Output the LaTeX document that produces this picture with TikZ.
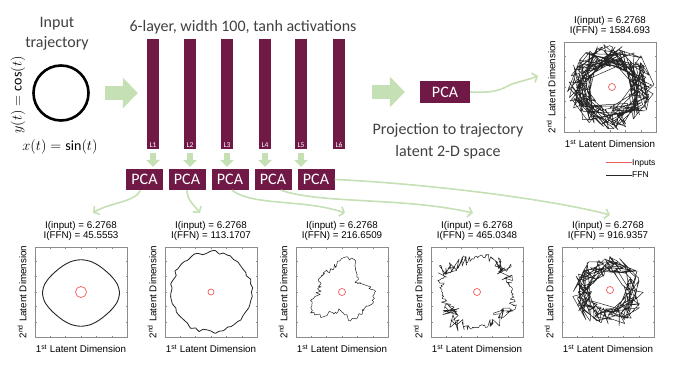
\documentclass[tikz,border=0pt]{standalone}
\usepackage{fontspec}
\setmainfont{Carlito}
\newfontfamily\plotfont{Liberation Sans}
\usetikzlibrary{arrows.meta}
\definecolor{layercol}{RGB}{112,25,70}
\definecolor{flowgreen}{RGB}{197,224,180}
\definecolor{txtgray}{RGB}{64,64,64}
\definecolor{inpred}{RGB}{238,90,90}
\tikzset{
  layerbar/.style={fill=layercol, minimum width=12pt, minimum height=110pt, inner sep=0pt},
  lyrlbl/.style={fill=layercol, text=white, font=\fontsize{7.5}{8}\selectfont, inner sep=1pt},
  pca/.style={fill=layercol, text=white, font=\fontsize{16}{18}\selectfont, minimum width=37pt, minimum height=21pt, inner sep=0pt},
  fatarrow/.style={flowgreen, line width=14pt, -{Triangle[length=15pt,width=30pt]}},
  downarrow/.style={flowgreen, line width=6pt, -{Triangle[length=7pt,width=14pt]}},
  flow/.style={flowgreen, line width=1.6pt, -{Straight Barb[length=4pt,width=10pt]}},
  slidetxt/.style={text=txtgray, font=\fontsize{16}{20}\selectfont, align=center},
  plottxt/.style={font=\plotfont\fontsize{9.8}{10.5}\selectfont, inner sep=0pt, align=center},
  axbox/.style={draw=black!45, line width=0.5pt},
  ffn/.style={draw=black!85, line width=0.5pt, line join=round},
  inp/.style={draw=inpred, line width=0.7pt}
}
% one MATLAB style panel: box, ticks, title and axis labels
\def\panel(#1,#2)#3#4{%
  \draw[axbox] (#1,#2) rectangle ++(92,90);
  \foreach \tk in {15,30,46,61,77}{%
    \draw[axbox] ({#1+\tk},#2) -- ++(0,1.5);
    \draw[axbox] ({#1+\tk},{#2+90}) -- ++(0,-1.5);
    \draw[axbox] (#1,{#2+\tk*90/92}) -- ++(1.5,0);
    \draw[axbox] ({#1+92},{#2+\tk*90/92}) -- ++(-1.5,0);
  }
  \node[plottxt] (ttl#3) at ({#1+46},{#2-16}) {I(input) = 6.2768\\I(FFN) = #4};
  \node[plottxt] (xl#3) at ({#1+46},{#2+102}) {1\textsuperscript{st} Latent Dimension};
  \node[plottxt, rotate=90] (yl#3) at ({#1-13},{#2+45}) {2\textsuperscript{nd} Latent Dimension};
}

\begin{document}
\begin{tikzpicture}[x=1pt,y=-1pt]
	%%%%% START %%%%%
	\useasboundingbox (0,0) rectangle (674,366);
	
	\node[slidetxt] (intitle) at (57,34) {Input\\trajectory};
	\node[draw, circle, line width=2.6pt, minimum size=55pt, inner sep=0pt] (traj) at (61,93) {};
	\node[rotate=90, font=\fontsize{14}{16}\selectfont] (ycos) at (18,95) {$y(t) = \cos(t)$};
	\node[font=\fontsize{14}{16}\selectfont] (xsin) at (60,147) {$x(t) = \sin(t)$};
	
	\node[slidetxt] (nettitle) at (243,27) {6-layer, width 100, tanh activations};
	\foreach \i/\x in {1/153,2/190,3/227,4/265,5/301,6/339}{
		\node[layerbar] (b\i) at (\x,94) {};
		\node[lyrlbl, anchor=south] (l\i) at (b\i.south) {L\i};
	}
	\foreach \i/\x in {1/144.5,2/187,3/230,4/273,5/316}
		\node[pca] (p\i) at (\x,179.5) {PCA};
	\foreach \i in {1,...,5}
		\draw[downarrow, shorten <=4pt, shorten >=2pt] (b\i.south) -- (b\i.south |- p\i.north);
	
	\draw[fatarrow, shorten <=15pt, shorten >=9pt] (traj.east) -- (traj.east -| b1.west);
	
	\node[pca, minimum width=50pt, minimum height=22pt] (pcaR) at (445,92) {PCA};
	\draw[fatarrow, shorten <=27pt, shorten >=15pt] (b6.east |- pcaR) -- (pcaR.west);
	\node[slidetxt, font=\fontsize{16}{22}\selectfont] (projtxt) at (448,141) {Projection to trajectory\\latent 2-D space};
	
	%%%%% PANELS %%%%%
	\panel(564,42){0}{1584.693}
	\panel(35,247){1}{45.5553}
	\panel(165,247){2}{113.1707}
	\panel(296,247){3}{216.6509}
	\panel(431,247){4}{465.0348}
	\panel(562,247){5}{916.9357}
	
	\coordinate (projend) at (538,76);
	\draw[flow] (pcaR.east) .. controls +(25,1) and +(-12,6) .. (512,84) .. controls +(10,-3) and +(-8,3) .. (projend);
	
	\node[plottxt, font=\plotfont\fontsize{8.5}{9}\selectfont, anchor=west] (leginp) at (632,163) {Inputs};
	\node[plottxt, font=\plotfont\fontsize{8.5}{9}\selectfont, anchor=west] (legffn) at (632,175) {FFN};
	\draw[inp, line width=1pt] (leginp.west) -- ++(-26,0);
	\draw[ffn, line width=0.8pt] (legffn.west) -- ++(-26,0);
	
	%%%%% CURVES %%%%%
	\draw[ffn, line width=0.9pt] plot[smooth cycle, domain=0:345, samples=24] ({81+37*cos(\x)*(1+0.04*cos(4*\x))}, {293+32*sin(\x)*(1+0.04*cos(4*\x))});
	
	\pgfmathsetseed{7}
	\draw[ffn, line width=0.8pt] plot[smooth cycle, domain=0:354, samples=60] ({211+(40+2*rand)*cos(\x)}, {292+(40+2*rand)*sin(\x)});
	
	\pgfmathsetseed{11}
	\draw[ffn] plot[domain=0:360, samples=100] ({342+(27+5*sin(3*\x)+4*cos(5*\x)+3*rand)*cos(\x)}, {292+(27+5*sin(3*\x)+4*cos(5*\x)+3*rand)*sin(\x)});
	
	\pgfmathsetseed{23}
	\draw[ffn] plot[domain=0:360, samples=220] ({477+(35+2*sin(4*\x)+(1+10*sin(2*\x)^2)*rand)*cos(\x)}, {292+(35+2*sin(4*\x)+(1+10*sin(2*\x)^2)*rand)*sin(\x)});
	
	\pgfmathsetseed{5}
	\draw[ffn] (636,292) \foreach \k [evaluate=\k as \ang using {\k*9+45*rand}, evaluate=\k as \rad using {26+10*rand}] in {1,...,200} { -- ({608+\rad*cos(\ang)},{292+\rad*sin(\ang)}) };
	
	\pgfmathsetseed{3}
	\draw[ffn] (646,87) \foreach \k [evaluate=\k as \ang using {\k*9+55*rand}, evaluate=\k as \rad using {32+12*rand}] in {1,...,280} { -- ({610+\rad*cos(\ang)},{87+\rad*sin(\ang)}) };
	
	\draw[inp] (81,292) circle (5.5);
	\draw[inp] (211,292) circle (3);
	\draw[inp] (342,292) circle (3.5);
	\draw[inp] (477,292) circle (3.5);
	\draw[inp] (610,290) circle (3.5);
	\draw[inp] (612,87) circle (3.5);
	
	%%%%% ARROWS TO PANELS %%%%%
	\draw[flow] ([xshift=-4pt]p1.south) .. controls +(-5,12) and +(15,-10) .. ([shift={(12,-8)}]ttl1.north);
	\draw[flow] (p2.south) .. controls +(0,10) and +(-6,-8) .. ([shift={(-11,-8)}]ttl2.north);
	\draw[flow] ([xshift=2pt]p3.south) .. controls +(20,16) and +(-40,-14) .. ([shift={(3,-8)}]ttl3.north);
	\draw[flow] ([xshift=8pt]p4.south) .. controls +(40,14) and +(-70,-16) .. ([shift={(-4,-8)}]ttl4.north);
	\draw[flow] (p5.east) .. controls +(90,4) and +(-60,-16) .. ([shift={(2,-6)}]ttl5.north);
	
	%%%%% END %%%%%
\end{tikzpicture}
\end{document}
